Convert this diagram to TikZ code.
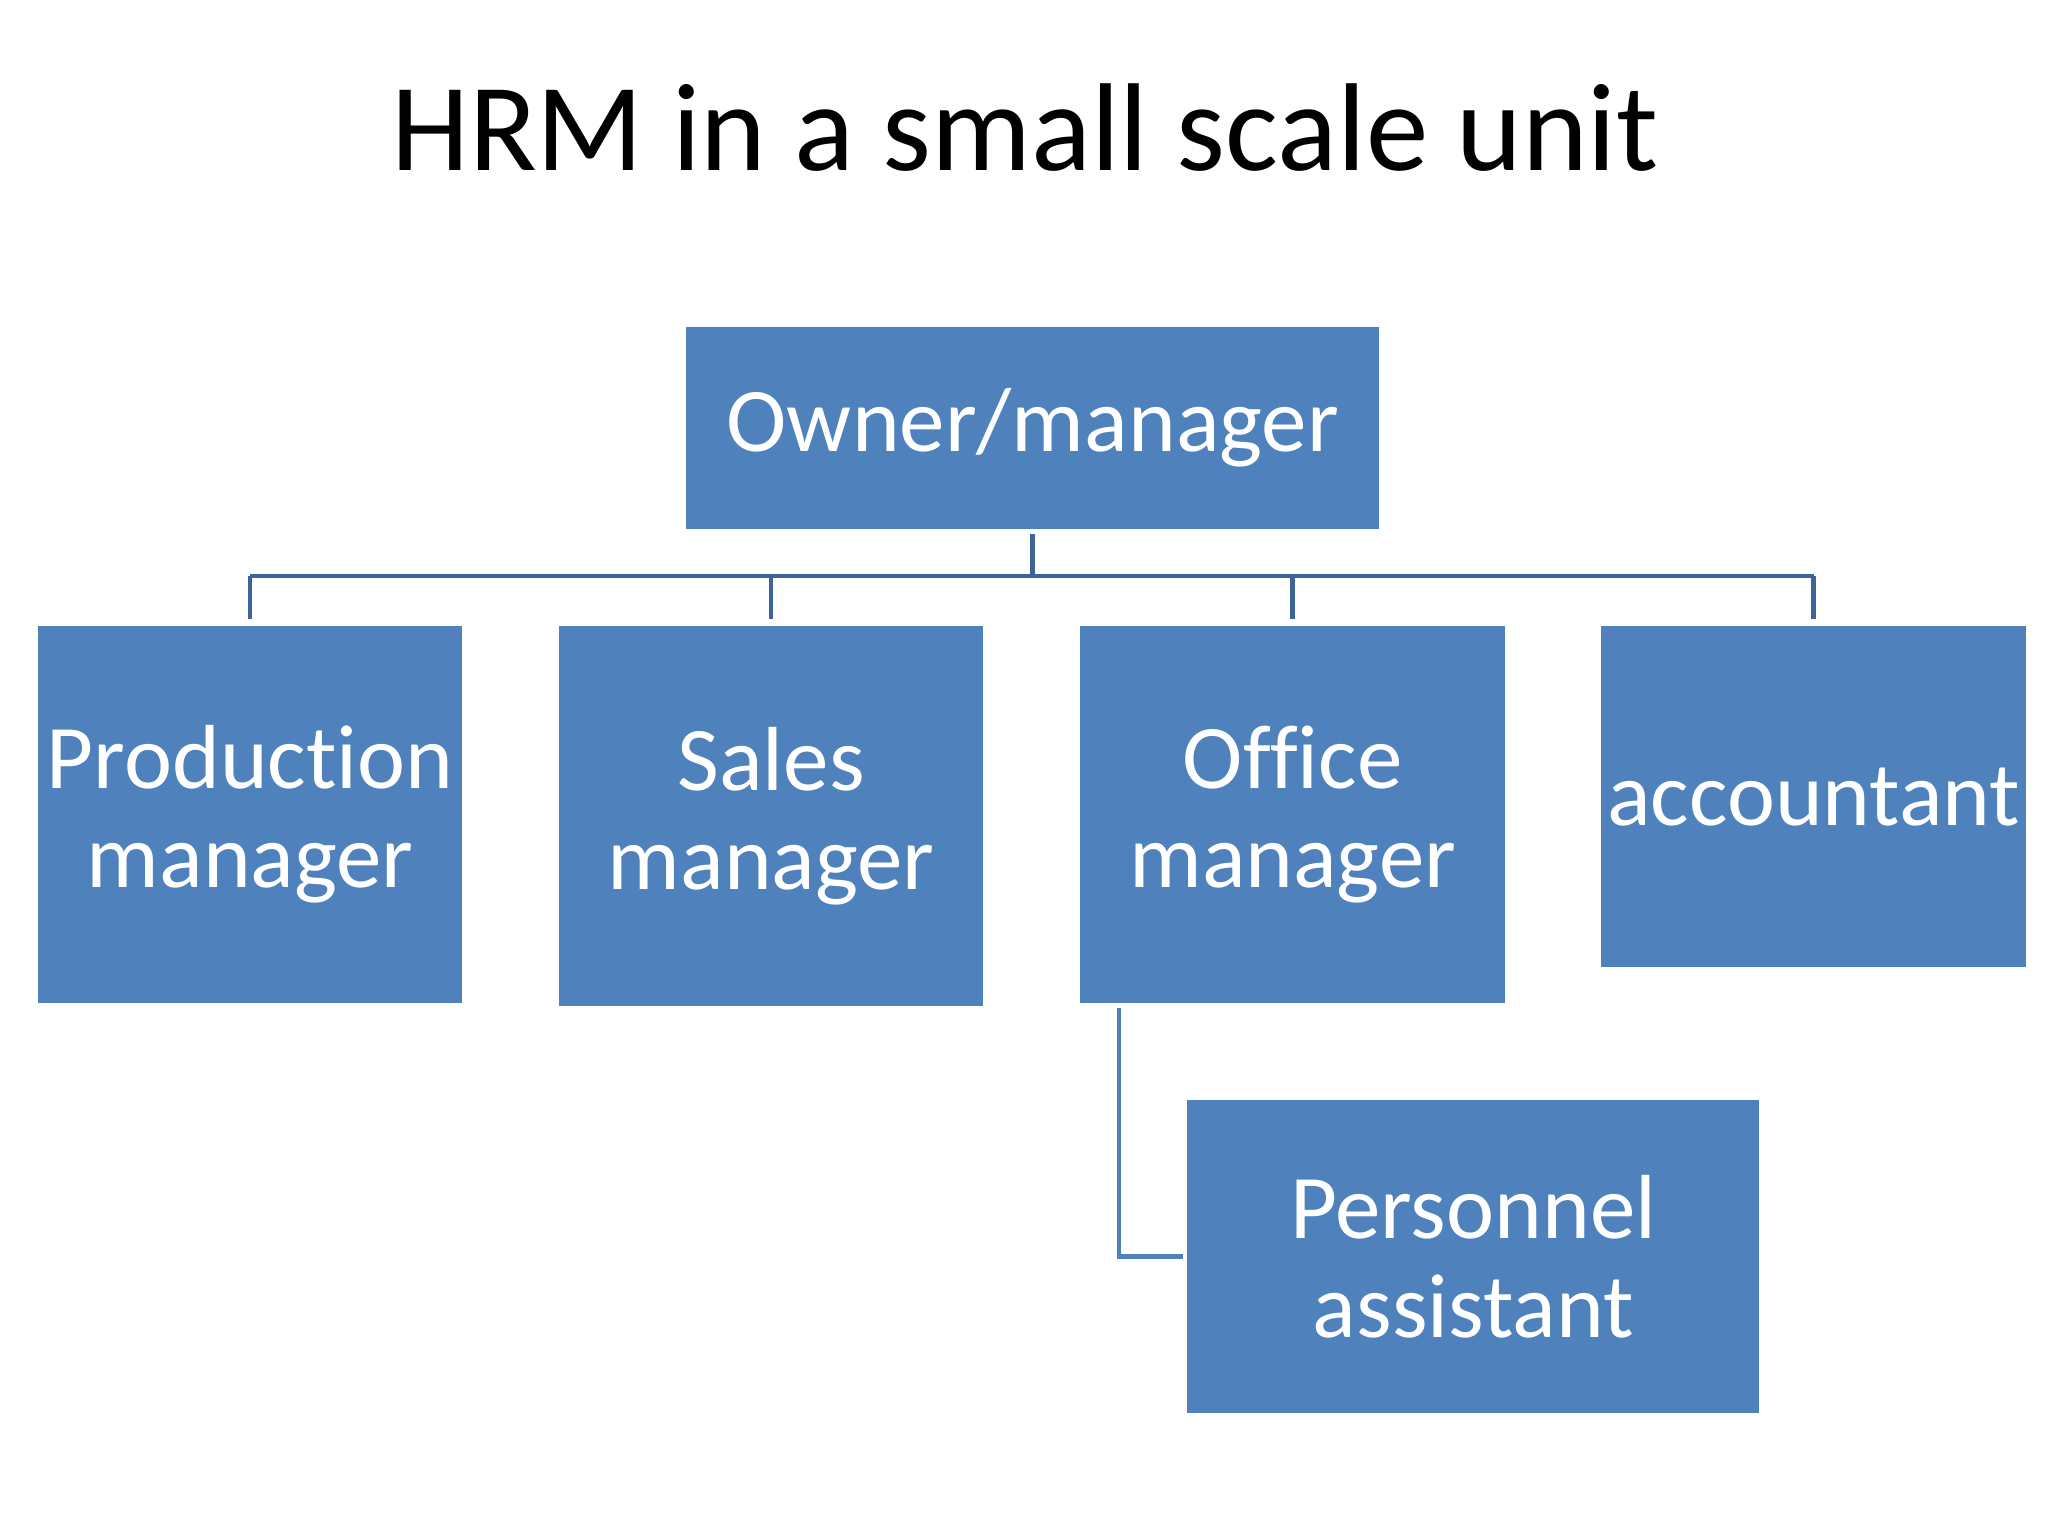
\documentclass[tikz,border=0pt]{standalone}
\usepackage{fontspec}
\setmainfont[Ligatures=NoCommon]{Carlito}
\definecolor{boxblue}{HTML}{4F81BD}
\definecolor{linedark}{HTML}{3C6496}
\tikzset{
  orgbox/.style={fill=boxblue, draw=none, text=white, align=center, inner sep=0pt,
    font=\fontsize{91}{99}\selectfont, anchor=north west},
  conn/.style={draw=linedark, line width=4.5pt},
  conn2/.style={draw=boxblue, line width=4.5pt},
}
\begin{document}
\begin{tikzpicture}[x=1pt,y=-1pt]
\useasboundingbox[fill=white] (0,0) rectangle (2048,1536);
\node[font=\fontsize{125}{130}\selectfont, anchor=base] (title) at (1025,170) {HRM in a small scale unit};
\node[orgbox, minimum width=693pt, minimum height=202pt] (owner) at (686,327) {Owner/manager};
\node[orgbox, minimum width=424pt, minimum height=377pt] (prod) at (38,626) {Production\\manager};
\node[orgbox, minimum width=424pt, minimum height=380pt] (sales) at (559,626) {Sales\\manager};
\node[orgbox, minimum width=425pt, minimum height=377pt] (office) at (1080,626) {Office\\manager};
\node[orgbox, minimum width=425pt, minimum height=341pt] (acct) at (1601,626) {accountant};
\node[orgbox, minimum width=572pt, minimum height=313pt] (pers) at (1187,1100) {Personnel\\assistant};
\coordinate (bar) at (1032,576);
\draw[conn, shorten <=5pt] (owner.south) -- (owner.south |- bar);
\draw[conn] (prod.north |- bar) -- (acct.north |- bar);
\draw[conn] (prod.north |- bar) -- ([yshift=7pt]prod.north);
\draw[conn] (sales.north |- bar) -- ([yshift=7pt]sales.north);
\draw[conn] (office.north |- bar) -- ([yshift=7pt]office.north);
\draw[conn] (acct.north |- bar) -- ([yshift=7pt]acct.north);
\draw[conn2] ([xshift=39pt,yshift=-5pt]office.south west) |- ([xshift=-4pt]pers.west);
\end{tikzpicture}
\end{document}
